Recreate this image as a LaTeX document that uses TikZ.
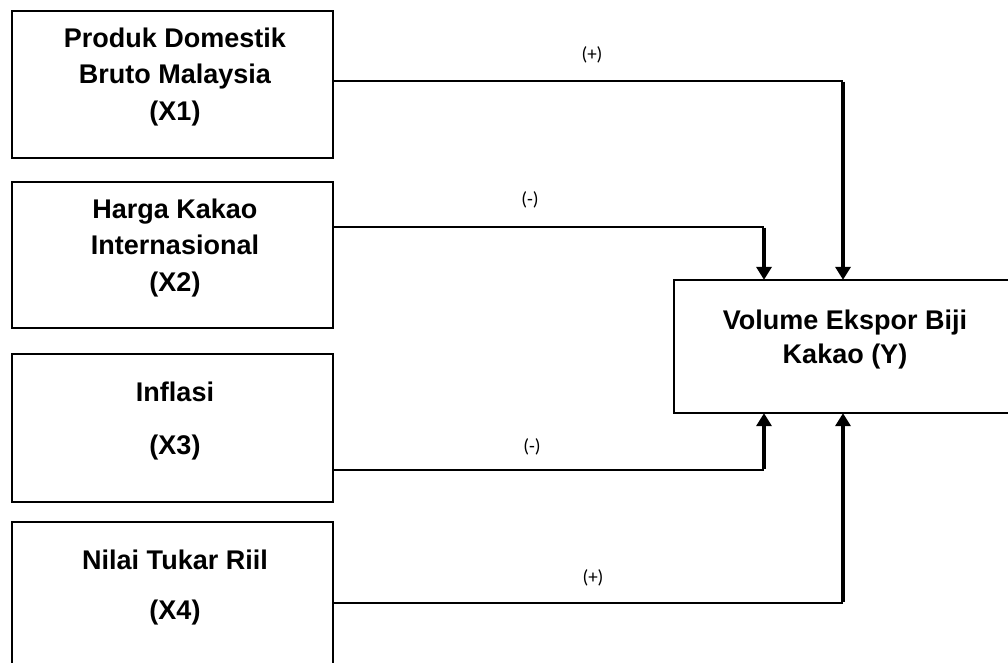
\documentclass[tikz,border=0pt]{standalone}
\usepackage{fontspec}
\setmainfont{Liberation Sans}
\newfontfamily\lblfont{Carlito}
\usetikzlibrary{arrows.meta}
\tikzset{
  box/.style={draw, line width=2.3pt, inner sep=0pt, minimum width=321pt},
  boxtext/.style={align=center, inner sep=0pt, font=\bfseries\fontsize{27}{36.5}\selectfont},
  hline/.style={line width=1.2pt},
  varrow/.style={line width=3.4pt, -{Triangle[width=15pt,length=13pt]}, shorten >=-1pt},
  lbl/.style={inner sep=0pt, font=\lblfont\fontsize{19}{21}\selectfont}
}
\begin{document}
\begin{tikzpicture}[x=1pt,y=-1pt]
\useasboundingbox (0,0) rectangle (1008,662);
\clip (0,0) rectangle (1008,662);
\fill[white] (0,0) rectangle (1008,662);
% boxes
\node[box, minimum height=147pt] (b1) at (172.5,84.5) {};
\node[box, minimum height=146pt] (b2) at (172.5,255) {};
\node[box, minimum height=148pt] (b3) at (172.5,428) {};
\node[box, minimum height=148pt] (b4) at (172.5,596) {};
\node[box, minimum width=341pt, minimum height=133pt] (y) at (844.5,346.5) {};
% texts
\node[boxtext] (t1) at (175,77) {Produk Domestik\\Bruto Malaysia\\(X1)};
\node[boxtext] (t2) at (175,248) {Harga Kakao\\Internasional\\(X2)};
\node[boxtext, font=\bfseries\fontsize{27}{53}\selectfont] (t3) at (175,421.5) {Inflasi\\(X3)};
\node[boxtext, font=\bfseries\fontsize{27}{50}\selectfont] (t4) at (175,588) {Nilai Tukar Riil\\(X4)};
\node[boxtext, font=\bfseries\fontsize{27}{34}\selectfont] (ty) at (845,340) {Volume Ekspor Biji\\Kakao (Y)};
% bend coordinates
\coordinate (c1) at (843,81);
\coordinate (c2) at (764,227);
\coordinate (c3) at (764,470);
\coordinate (c4) at (843,603);
% connectors
\draw[hline] (b1.east |- c1) -- (c1);
\draw[varrow] ([yshift=-0.6pt]c1) -- (c1 |- y.north);
\draw[hline] (b2.east |- c2) -- (c2);
\draw[varrow] ([yshift=-0.6pt]c2) -- (c2 |- y.north);
\draw[hline] (b3.east |- c3) -- (c3);
\draw[varrow] ([yshift=0.6pt]c3) -- (c3 |- y.south);
\draw[hline] (b4.east |- c4) -- (c4);
\draw[varrow] ([yshift=0.6pt]c4) -- (c4 |- y.south);
% labels
\node[lbl] (l1) at (592,55) {(+)};
\node[lbl] (l2) at (530,200) {(-)};
\node[lbl] (l3) at (532,447) {(-)};
\node[lbl] (l4) at (593,578) {(+)};
\end{tikzpicture}
\end{document}
